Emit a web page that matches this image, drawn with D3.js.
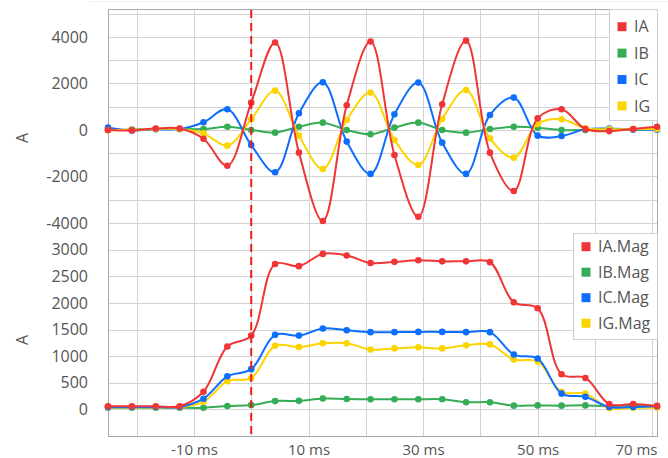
<!DOCTYPE html>
<html>
<head>
<meta charset="utf-8">
<script src="https://cdn.jsdelivr.net/npm/d3@7/dist/d3.min.js"></script>
<style>
  html, body { margin: 0; padding: 0; background: #fff; }
  svg text { font-family: "Open Sans", "Noto Sans", sans-serif; fill: #555; }
</style>
</head>
<body>
<svg id="chart" width="668" height="458"></svg>
<script>
// ---- data ----
const timeMs = [-25, -20.83, -16.67, -12.5, -8.33, -4.17, 0, 4.17, 8.33, 12.5, 16.67, 20.83,
                25, 29.17, 33.33, 37.5, 41.67, 45.83, 50, 54.17, 58.33, 62.5, 66.67, 70.83];

const IA = [0, -20, 60, 60, -380, -1540, 1175, 3760, -975, -3915, 1060, 3800,
            -1075, -3730, 1105, 3840, -975, -2625, 500, 890, 40, -50, 40, 140];
const IB = [0, 20, 40, 40, 40, 140, 0, -115, 140, 315, 0, -185,
            100, 315, 0, -115, 40, 140, 100, 0, 0, 20, 20, 40];
const IC = [100, -20, 30, 40, 330, 890, -650, -1820, 715, 2050, -500, -1890,
            675, 2035, -545, -1890, 645, 1390, -245, -260, 30, 60, 20, 10];
const IG = [0, 0, 40, 40, -145, -675, 460, 1690, -245, -1680, 430, 1605,
            -430, -1505, 470, 1720, -360, -1190, 260, 460, 70, 30, 40, 40];

const IAMag = [60, 60, 60, 60, 330, 1180, 1385, 2730, 2690, 2920, 2890, 2750,
               2770, 2800, 2780, 2780, 2765, 2010, 1900, 660, 590, 100, 100, 65];
const IBMag = [30, 30, 30, 30, 30, 62, 80, 155, 160, 205, 195, 190,
               190, 190, 190, 135, 135, 70, 75, 70, 75, 60, 75, 50];
const ICMag = [45, 45, 45, 45, 200, 620, 755, 1400, 1385, 1520, 1485, 1450,
               1450, 1455, 1455, 1450, 1450, 1030, 955, 295, 235, 45, 45, 60];
const IGMag = [40, 40, 40, 40, 140, 530, 590, 1195, 1170, 1240, 1240, 1125,
               1145, 1165, 1145, 1205, 1220, 935, 900, 330, 295, 20, 30, 30];

const topNames = ["IA", "IB", "IC", "IG"];
const bottomNames = ["IA.Mag", "IB.Mag", "IC.Mag", "IG.Mag"];
const colors = ["#ef3535", "#35ad55", "#0d6efd", "#fcd400"];

const xTickLabels = [-10, 10, 30, 50, 70];
const xGrid = [-20, -10, 0, 10, 20, 30, 40, 50, 60, 70];
const topTickLabels = [-4000, -2000, 0, 2000, 4000];
const topGrid = [-4000, -3000, -2000, -1000, 0, 1000, 2000, 3000, 4000, 5000];
const bottomTickLabels = [0, 500, 1000, 1500, 2000, 2500, 3000];
const bottomGrid = [-500, 0, 500, 1000, 1500, 2000, 2500, 3000, 3500];
const faultTime = 0;

// ---- layout ----
const svg = d3.select("#chart");
const L = 108, R = 657, T = 9, MID = 223, B = 436;
const FONT = '"Open Sans", "Noto Sans", sans-serif';

const x = d3.scaleLinear().domain([-25, 70.83]).range([L, R]);
const yTop = d3.scaleLinear().domain([-4000, 5200]).range([MID, T]);
const yBot = d3.scaleLinear().domain([-500, 3500]).range([B, MID]);

// faint frame line on top
svg.append("line").attr("x1", 90).attr("x2", 668).attr("y1", 1.5).attr("y2", 1.5)
  .attr("stroke", "#f0f0f0").attr("stroke-width", 1);

// grid
const grid = svg.append("g");
grid.selectAll(".vg").data(xGrid).enter().append("line")
  .attr("x1", d => Math.round(x(d)) + 0.5).attr("x2", d => Math.round(x(d)) + 0.5)
  .attr("y1", T).attr("y2", B).attr("stroke", "#d2d2d2").attr("stroke-width", 1);
grid.selectAll(".hgt").data(topGrid).enter().append("line")
  .attr("x1", L).attr("x2", R)
  .attr("y1", d => Math.round(yTop(d)) + 0.5).attr("y2", d => Math.round(yTop(d)) + 0.5)
  .attr("stroke", "#d2d2d2").attr("stroke-width", 1);
grid.selectAll(".hgb").data(bottomGrid).enter().append("line")
  .attr("x1", L).attr("x2", R)
  .attr("y1", d => Math.round(yBot(d)) + 0.5).attr("y2", d => Math.round(yBot(d)) + 0.5)
  .attr("stroke", "#d2d2d2").attr("stroke-width", 1);

// frame
svg.append("rect").attr("x", L + 0.5).attr("y", T + 0.5).attr("width", R - L).attr("height", B - T)
  .attr("fill", "none").attr("stroke", "#a8a8a8").attr("stroke-width", 1);

// y axes labels
const axTop = svg.append("g").attr("transform", `translate(${L - 20},0)`)
  .call(d3.axisLeft(yTop).tickValues(topTickLabels).tickSize(0).tickPadding(0)
    .tickFormat(d => String(d)));
const axBot = svg.append("g").attr("transform", `translate(${L - 20},0)`)
  .call(d3.axisLeft(yBot).tickValues(bottomTickLabels).tickSize(0).tickPadding(0)
    .tickFormat(d => String(d)));
[axTop, axBot].forEach(a => {
  a.select(".domain").remove();
  a.selectAll("text").attr("font-size", 16).attr("fill", "#555").style("font-family", FONT);
});

// x axis labels
const axX = svg.append("g").attr("transform", `translate(0,${B})`)
  .call(d3.axisBottom(x).tickValues(xTickLabels).tickSize(0).tickPadding(0)
    .tickFormat(d => d + " ms"));
axX.select(".domain").remove();
axX.selectAll("text").attr("font-size", 15).attr("fill", "#555").style("font-family", FONT)
  .attr("y", 14).attr("dy", "0.35em");
// last label is kept inside the plot's right edge
axX.selectAll(".tick").filter(d => d === xTickLabels[xTickLabels.length - 1])
  .select("text").attr("text-anchor", "end").attr("x", R - x(xTickLabels[xTickLabels.length - 1]));

// axis names
svg.append("text").attr("transform", "translate(28,138) rotate(-90)")
  .attr("text-anchor", "middle").attr("font-size", 16).text("A");
svg.append("text").attr("transform", "translate(28,340) rotate(-90)")
  .attr("text-anchor", "middle").attr("font-size", 16).text("A");

// series
function drawSeries(values, yScale, color) {
  const pts = timeMs.map((t, i) => [t, values[i]]);
  const line = d3.line().x(d => x(d[0])).y(d => yScale(d[1])).curve(d3.curveCatmullRom.alpha(0.5));
  svg.append("path").datum(pts).attr("d", line)
    .attr("fill", "none").attr("stroke", color).attr("stroke-width", 2);
  svg.append("g").selectAll("circle").data(pts).enter().append("circle")
    .attr("cx", d => x(d[0])).attr("cy", d => yScale(d[1])).attr("r", 3.3)
    .attr("fill", color);
}
const topSeries = [IA, IB, IC, IG];
const botSeries = [IAMag, IBMag, ICMag, IGMag];
[1, 2, 3, 0].forEach(i => drawSeries(topSeries[i], yTop, colors[i]));
[1, 3, 2, 0].forEach(i => drawSeries(botSeries[i], yBot, colors[i]));

// fault marker
svg.append("line").attr("x1", x(faultTime)).attr("x2", x(faultTime))
  .attr("y1", T + 1).attr("y2", B)
  .attr("stroke", "#ee1c1c").attr("stroke-width", 2).attr("stroke-dasharray", "8,5");

// legends
function legend(names, x0, y0, w, h, sqX, txtX, firstY, step) {
  const g = svg.append("g");
  g.append("rect").attr("x", x0 + 0.5).attr("y", y0 + 0.5).attr("width", w).attr("height", h)
    .attr("fill", "#fff").attr("stroke", "#cfcfcf");
  names.forEach((n, i) => {
    const cy = firstY + i * step;
    g.append("rect").attr("x", sqX).attr("y", cy - 4.5).attr("width", 9).attr("height", 9)
      .attr("fill", colors[i]);
    g.append("text").attr("x", txtX).attr("y", cy).attr("dy", "0.36em")
      .attr("font-size", 16).text(n);
  });
}
legend(topNames, 609, 9, 48, 111, 617.5, 634, 26.7, 26.4);
legend(bottomNames, 573, 233, 84, 106, 581.5, 598, 246.7, 25.5);
</script>
</body>
</html>
